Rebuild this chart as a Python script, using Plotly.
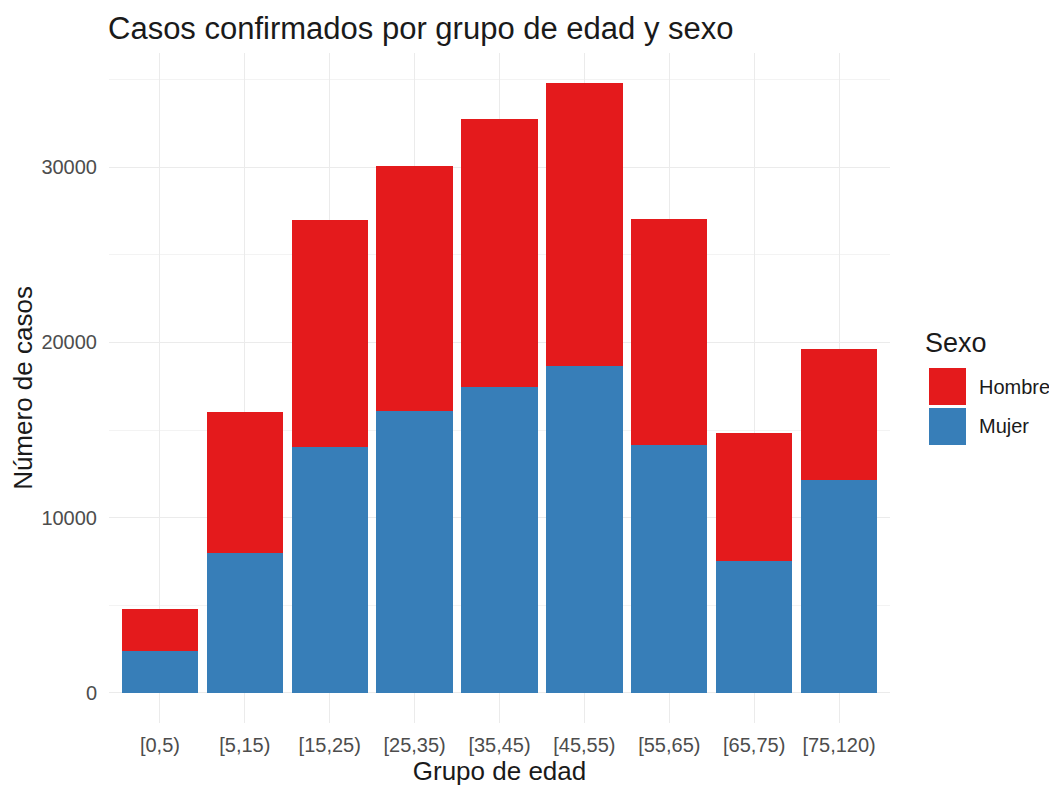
import plotly.graph_objects as go

categories = ["[0,5)", "[5,15)", "[15,25)", "[25,35)", "[35,45)", "[45,55)", "[55,65)", "[65,75)", "[75,120)"]
totales = [4780, 16050, 27000, 30100, 32780, 34800, 27060, 14850, 19650]
mujer = [2350, 7970, 14020, 16060, 17470, 18680, 14130, 7520, 12170]
hombre = [t - m for t, m in zip(totales, mujer)]

ROJO = "#E41A1C"
AZUL = "#377EB8"
FONT = "Liberation Sans, Arial, sans-serif"

# page body has an 8px margin: figure sized / positioned to compensate
OFF = 8
W, H = 1057 - OFF, 787 - OFF
L = 109 - OFF
T = 53 - OFF
R = W - (890 - OFF)
B = H - (723 - OFF)
pw = W - L - R
ph = H - T - B


def px_x(x):
    return (x - OFF - L) / pw


def px_y(y):
    return (H - B - (y - OFF)) / ph


fig = go.Figure()
fig.add_trace(go.Bar(x=categories, y=mujer, name="Mujer", marker=dict(color=AZUL, line=dict(width=0)), width=0.9))
fig.add_trace(go.Bar(x=categories, y=hombre, name="Hombre", marker=dict(color=ROJO, line=dict(width=0)), width=0.9))

fig.update_layout(
    barmode="stack",
    width=W, height=H,
    paper_bgcolor="white", plot_bgcolor="white",
    margin=dict(l=L, r=R, t=T, b=B, autoexpand=False),
    showlegend=False,
    font=dict(family=FONT, color="#1a1a1a"),
    title=dict(text="Casos confirmados por grupo de edad y sexo", x=(108 - OFF)/W, xanchor="left",
               y=1 - (28 - OFF)/H, yanchor="middle", automargin=False, font=dict(size=31, color="#1a1a1a")),
    xaxis=dict(range=[-0.6, 8.6], showgrid=True, gridcolor="#ebebeb", gridwidth=1.2, automargin=False,
               tickfont=dict(size=20, color="#4d4d4d"), ticks="", zeroline=False, showline=False,
               ticklabelstandoff=8,
               title=dict(text="Grupo de edad", font=dict(size=26, color="#1a1a1a"), standoff=4)),
    yaxis=dict(range=[-1740, 36540], tickvals=[0, 10000, 20000, 30000], showgrid=True, automargin=False,
               gridcolor="#ebebeb", gridwidth=1.2, zeroline=False, showline=False,
               tickformat="d", tickfont=dict(size=20, color="#4d4d4d"), ticks="", ticklabelstandoff=11,
               minor=dict(tickvals=[5000, 15000, 25000, 35000], showgrid=True, gridcolor="#f3f3f3", gridwidth=0.8),
               title=dict(text="Número de casos", font=dict(size=26, color="#1a1a1a"), standoff=5)),
)

# Custom legend (ggplot style)
legend_items = [("Hombre", ROJO), ("Mujer", AZUL)]
fig.add_annotation(text="Sexo", xref="paper", yref="paper", x=px_x(923), y=px_y(343),
                   xanchor="left", yanchor="middle", showarrow=False,
                   font=dict(size=27, color="#1a1a1a"))
for i, (name, col) in enumerate(legend_items):
    top = 368 + i * 40
    bot = top + 37
    fig.add_shape(type="rect", xref="paper", yref="paper",
                  x0=px_x(929), x1=px_x(966), y0=px_y(bot), y1=px_y(top),
                  fillcolor=col, line=dict(width=0))
    fig.add_annotation(text=name, xref="paper", yref="paper", x=px_x(977),
                       y=px_y((top + bot) / 2), xanchor="left", yanchor="middle",
                       showarrow=False, font=dict(size=20, color="#1a1a1a"))

fig.write_html("out.html")
